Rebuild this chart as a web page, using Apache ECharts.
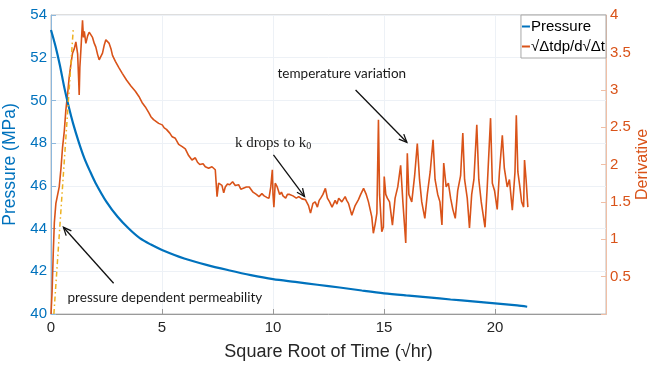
<!DOCTYPE html>
<html>
<head>
<meta charset="utf-8">
<title>Pressure and derivative</title>
<script src="https://cdn.jsdelivr.net/npm/echarts@6/dist/echarts.min.js"></script>
</head>
<body style="margin:0">
<div id="main" style="width:653px;height:368px;"></div>
<script>
// x tick labels
var xTicks = [0, 5, 10, 15, 20];

// pressure (MPa) vs square root of time
var pressureT = [0, 0.2, 0.4, 0.6, 0.8, 1.0, 1.25, 1.5, 1.75, 2.0, 2.5, 3.0, 3.5, 4.0, 4.5, 5.0, 6.0, 7.0, 8.0, 9.0,
                 10, 11, 12, 13, 14, 15, 16, 17, 18, 19, 20, 21, 21.45];
var pressureP = [53.3, 52.55, 51.65, 50.6, 49.7, 48.9, 48.05, 47.3, 46.7, 46.15, 45.25, 44.55, 44.0, 43.55, 43.25, 43.0, 42.6, 42.3, 42.05, 41.82,
                 41.63, 41.5, 41.37, 41.24, 41.1, 40.97, 40.87, 40.78, 40.68, 40.59, 40.5, 40.4, 40.34];

// derivative sqrt(dt) dp / d sqrt(dt)
var derivT = [0, 0.05, 0.1, 0.15, 0.22, 0.3, 0.37, 0.45, 0.52, 0.6, 0.67, 0.75, 0.82, 0.9, 0.97, 1.05, 1.12, 1.2, 1.25, 1.27,
              1.3, 1.35, 1.42, 1.46, 1.5, 1.57, 1.65, 1.72, 1.8, 1.87, 1.95, 2.02, 2.1, 2.17, 2.25, 2.32, 2.4, 2.47, 2.55, 2.62,
              2.7, 2.77, 2.9, 3.05, 3.21, 3.4, 3.6, 3.8, 3.96, 4.1, 4.25, 4.41, 4.5, 4.55, 4.62, 4.7, 4.85, 5.01, 5.1, 5.2,
              5.35, 5.46, 5.6, 5.75, 5.91, 6.05, 6.2, 6.35, 6.5, 6.6, 6.7, 6.85, 6.95, 7.1, 7.25, 7.4, 7.48, 7.55, 7.62, 7.7,
              7.78, 7.85, 7.95, 8.05, 8.18, 8.3, 8.45, 8.55, 8.63, 8.8, 8.93, 9.1, 9.25, 9.37, 9.5, 9.6, 9.72, 9.82, 9.9, 9.97,
              10.0, 10.04, 10.1, 10.19, 10.3, 10.38, 10.45, 10.57, 10.65, 10.75, 10.9, 11.05, 11.16, 11.3, 11.46, 11.6, 11.69, 11.8, 11.9, 12.0,
              12.08, 12.15, 12.25, 12.36, 12.45, 12.55, 12.66, 12.8, 12.88, 12.96, 13.1, 13.25, 13.32, 13.4, 13.55, 13.7, 13.85, 13.95, 14.08, 14.2,
              14.3, 14.45, 14.52, 14.6, 14.68, 14.75, 14.8, 14.9, 14.97, 15.01, 15.08, 15.15, 15.25, 15.38, 15.5, 15.62, 15.75, 15.85, 15.98, 16.05,
              16.12, 16.25, 16.38, 16.5, 16.6, 16.7, 16.84, 16.95, 17.08, 17.21, 17.3, 17.42, 17.52, 17.61, 17.69, 17.8, 17.9, 18.0, 18.1, 18.21,
              18.32, 18.45, 18.55, 18.63, 18.75, 18.85, 18.95, 19.05, 19.18, 19.27, 19.38, 19.55, 19.65, 19.8, 19.88, 19.98, 20.1, 20.2, 20.33, 20.42,
              20.55, 20.65, 20.78, 20.9, 20.96, 21.03, 21.12, 21.2, 21.29, 21.33, 21.4, 21.48];
var derivD = [0, 0.3, 0.8, 1.22, 1.48, 1.5, 1.7, 1.95, 2.23, 2.45, 2.73, 2.95, 3.17, 3.35, 3.49, 3.55, 3.64, 3.48, 3.1, 2.93,
              3.3, 3.55, 3.93, 3.7, 3.78, 3.62, 3.72, 3.77, 3.75, 3.7, 3.62, 3.57, 3.47, 3.4, 3.42, 3.49, 3.6, 3.67, 3.66, 3.62,
              3.55, 3.46, 3.38, 3.3, 3.22, 3.13, 3.05, 2.98, 2.91, 2.83, 2.77, 2.69, 2.64, 2.66, 2.6, 2.61, 2.55, 2.53, 2.49, 2.47,
              2.42, 2.37, 2.35, 2.27, 2.24, 2.21, 2.12, 2.06, 2.09, 2.03, 2.0, 2.01, 1.97, 1.95, 1.97, 1.93, 1.57, 1.75, 1.77, 1.72,
              1.62, 1.7, 1.74, 1.73, 1.77, 1.72, 1.73, 1.67, 1.69, 1.7, 1.7, 1.63, 1.6, 1.57, 1.61, 1.58, 1.56, 1.55, 1.7, 1.93,
              1.6, 1.43, 1.75, 1.7, 1.6, 1.63, 1.58, 1.55, 1.6, 1.6, 1.58, 1.55, 1.57, 1.54, 1.53, 1.45, 1.35, 1.48, 1.5, 1.43,
              1.52, 1.55, 1.6, 1.68, 1.55, 1.5, 1.43, 1.52, 1.47, 1.55, 1.5, 1.57, 1.52, 1.48, 1.32, 1.45, 1.53, 1.6, 1.68, 1.6,
              1.5, 1.3, 1.08, 1.2, 1.35, 2.6, 1.6, 1.1, 1.16, 1.84, 1.6, 1.55, 1.5, 1.19, 1.55, 1.7, 1.99, 1.5, 0.95, 2.15,
              1.6, 1.5, 1.85, 2.28, 1.8, 1.5, 1.28, 1.6, 1.9, 2.33, 1.8, 1.6, 1.5, 1.19, 2.02, 1.7, 1.75, 1.55, 1.4, 1.28,
              1.65, 1.85, 2.42, 1.8, 1.55, 1.15, 1.6, 1.8, 2.53, 1.8, 1.5, 1.16, 1.7, 2.62, 1.75, 1.65, 1.4, 1.9, 2.39, 1.95,
              1.7, 1.8, 1.39, 1.9, 2.66, 1.9, 1.7, 1.5, 1.43, 2.06, 1.8, 1.43];

// early-time straight-line fit (dash-dot)
var slopeT = [0.13, 1.0];
var slopeD = [0, 3.8];

// annotations, in (sqrt hr, MPa) coordinates
var notes = [
  { text: 'pressure dependent permeability', at: [5.13, 40.75], from: [2.82, 41.44], to: [0.56, 44.06], font: 'Lato', size: 13.5 },
  { text: 'k drops to k{s|0}', at: [10.0, 48.0], from: [10.02, 47.45], to: [11.42, 45.5], font: '"Liberation Serif"', size: 15 },
  { text: 'temperature variation', at: [13.1, 51.24], from: [13.72, 50.49], to: [16.03, 48.04], font: 'Lato', size: 13.5 }
];

function pairs(a, b) {
  return a.map(function (v, i) { return [v, b[i]]; });
}

var blue = '#0072BD', orange = '#D95319', yellow = '#EDB120';
var chart = echarts.init(document.getElementById('main'));

var option = {
  animation: false,
  textStyle: { fontFamily: '"Liberation Sans", Arial, sans-serif' },
  grid: { left: 51, right: 47, top: 15, bottom: 54, outerBoundsMode: 'none', show: true, borderColor: '#bdbdbd', borderWidth: 1 },
  legend: {
    orient: 'vertical', right: 47, top: 15,
    backgroundColor: '#fff', borderColor: '#a8a8a8', borderWidth: 1,
    padding: [4, 1, 4, 1], itemGap: 5, itemWidth: 8, itemHeight: 2,
    textStyle: { fontSize: 15, color: '#000', padding: [0, 0, 0, -4] },
    data: [{ name: 'Pressure', icon: 'rect' }, { name: '\u221A\u0394tdp/d\u221A\u0394t', icon: 'rect' }]
  },
  xAxis: {
    type: 'value', min: 0, max: 25, interval: 5,
    name: 'Square Root of Time (\u221Ahr)', nameLocation: 'middle', nameGap: 29,
    nameTextStyle: { fontSize: 18, color: '#262626' },
    axisLine: { lineStyle: { color: '#9a9a9a' } },
    axisTick: { inside: true, length: 5, customValues: xTicks, lineStyle: { color: '#9a9a9a' } },
    axisLabel: { fontSize: 15, color: '#262626', margin: 6, customValues: xTicks },
    splitLine: { show: true, lineStyle: { color: '#edf1f6' } }
  },
  yAxis: [{
    type: 'value', min: 40, max: 54, interval: 2, position: 'left',
    name: 'Pressure (MPa)', nameLocation: 'middle', nameGap: 32, nameMoveOverlap: false,
    nameTextStyle: { fontSize: 17.5, color: blue },
    axisLine: { show: true, lineStyle: { color: '#8db8dd' } },
    axisTick: { show: true, inside: true, length: 5, lineStyle: { color: '#8db8dd' } },
    axisLabel: { fontSize: 15, color: blue, margin: 4 },
    splitLine: { show: true, lineStyle: { color: '#edf1f6' } }
  }, {
    type: 'value', min: 0, max: 4, interval: 0.5, position: 'right',
    name: 'Derivative', nameLocation: 'middle', nameGap: 29, nameRotate: 90, nameMoveOverlap: false,
    nameTextStyle: { fontSize: 16, color: orange },
    axisLine: { show: true, lineStyle: { color: '#f0bfa5' } },
    axisTick: { show: true, inside: true, length: 5, lineStyle: { color: '#f0bfa5' } },
    axisLabel: { fontSize: 15, color: orange, margin: 4, formatter: function (v) { return v === 0 ? '' : v; } },
    splitLine: { show: false }
  }],
  series: [{
    name: 'Pressure', type: 'line', yAxisIndex: 0, showSymbol: false, smooth: 0.3,
    data: pairs(pressureT, pressureP),
    itemStyle: { color: blue }, lineStyle: { color: blue, width: 2.2 },
    z: 3
  }, {
    name: '\u221A\u0394tdp/d\u221A\u0394t', type: 'line', yAxisIndex: 1, showSymbol: false,
    data: pairs(derivT, derivD),
    itemStyle: { color: orange }, lineStyle: { color: orange, width: 1.6 },
    z: 2
  }, {
    name: 'fit', type: 'line', yAxisIndex: 1, showSymbol: false,
    data: pairs(slopeT, slopeD),
    lineStyle: { color: yellow, width: 1.5, type: [5, 3, 1.5, 3] },
    z: 4
  }]
};
chart.setOption(option);

// annotation text and arrows, placed through the axes
var els = [];
notes.forEach(function (n) {
  var c = chart.convertToPixel({ xAxisIndex: 0, yAxisIndex: 0 }, n.at);
  var a = chart.convertToPixel({ xAxisIndex: 0, yAxisIndex: 0 }, n.from);
  var b = chart.convertToPixel({ xAxisIndex: 0, yAxisIndex: 0 }, n.to);
  els.push({
    type: 'text', x: c[0], y: c[1], z: 10,
    style: {
      text: n.text, fontFamily: n.font, fontSize: n.size, fill: '#1a1a1a', align: 'center', verticalAlign: 'middle',
      rich: { s: { fontFamily: n.font, fontSize: 10, fill: '#1a1a1a', padding: [7, 0, 0, 0] } }
    }
  });
  var dx = b[0] - a[0], dy = b[1] - a[1], len = Math.sqrt(dx * dx + dy * dy);
  var ux = dx / len, uy = dy / len, h = 8, w = 3.5;
  els.push({
    type: 'line', z: 10, shape: { x1: a[0], y1: a[1], x2: b[0], y2: b[1] },
    style: { stroke: '#111', lineWidth: 1.3 }
  });
  els.push({
    type: 'polyline', z: 10,
    shape: { points: [[b[0] - h * ux - w * uy, b[1] - h * uy + w * ux], [b[0], b[1]], [b[0] - h * ux + w * uy, b[1] - h * uy - w * ux]] },
    style: { stroke: '#111', lineWidth: 1.3, fill: null }
  });
});
chart.setOption({ graphic: els });
</script>
</body>
</html>
